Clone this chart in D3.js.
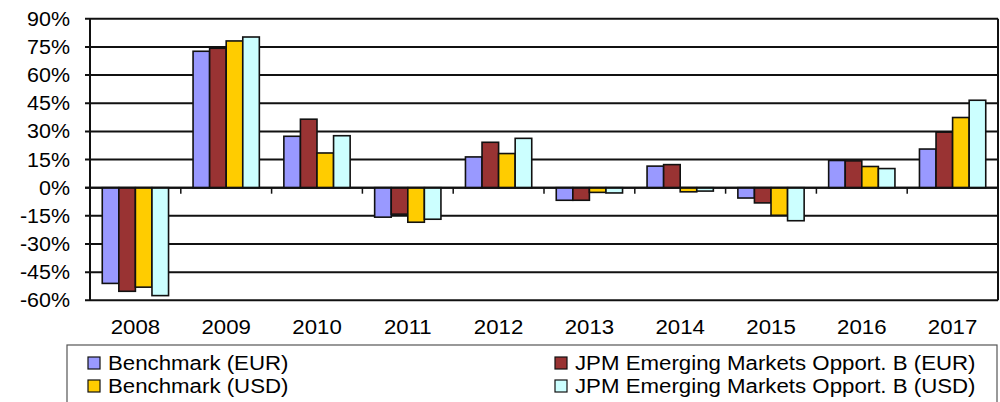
<!DOCTYPE html>
<html>
<head>
<meta charset="utf-8">
<script src="https://cdn.jsdelivr.net/npm/d3@7"></script>
<style>
  html, body { margin: 0; padding: 0; background: #fff; }
  svg { display: block; }
  text { font-family: "Liberation Sans", Arial, sans-serif; fill: #000; }
</style>
</head>
<body>
<svg id="chart" width="1000" height="402"></svg>
<script>
// ---- data ----
const years = ["2008","2009","2010","2011","2012","2013","2014","2015","2016","2017"];
const seriesNames = ["Benchmark (EUR)", "JPM Emerging Markets Opport. B (EUR)", "Benchmark (USD)", "JPM Emerging Markets Opport. B (USD)"];
const benchmarkEUR = [-51.0, 72.7, 27.4, -15.7, 16.4, -6.7, 11.5, -5.5, 14.5, 20.6];
const jpmEUR       = [-55.2, 74.3, 36.5, -14.1, 24.2, -6.7, 12.3, -8.1, 14.3, 29.6];
const benchmarkUSD = [-53.0, 78.2, 18.5, -18.4, 18.2, -2.5, -2.2, -14.7, 11.3, 37.4];
const jpmUSD       = [-57.5, 80.3, 27.7, -16.8, 26.3, -2.8, -1.8, -17.6, 10.2, 46.6];
const seriesColors = ["#9999FF", "#993333", "#FFCC00", "#CCFFFF"];
const yTicks = [-60, -45, -30, -15, 0, 15, 30, 45, 60, 75, 90];

const seriesValues = [benchmarkEUR, jpmEUR, benchmarkUSD, jpmUSD];

const svg = d3.select("#chart");
const plotLeft = 90, plotRight = 998;

const x = d3.scaleBand().domain(years).range([plotLeft, plotRight]).paddingInner(0).paddingOuter(0);
const groupW = x.bandwidth() * 0.73;
const xs = d3.scaleBand().domain(d3.range(4)).range([0, groupW]).padding(0);
const y = d3.scaleLinear().domain([-60, 90]).range([300.3, 18.8]);

// gridlines
svg.append("g").selectAll("line").data(yTicks).join("line")
  .attr("x1", plotLeft - 5).attr("x2", plotRight)
  .attr("y1", d => y(d)).attr("y2", d => y(d))
  .attr("stroke", "#111").attr("stroke-width", 2);

// right border
svg.append("line").attr("x1", plotRight).attr("x2", plotRight)
  .attr("y1", y(90)).attr("y2", y(-60)).attr("stroke", "#111").attr("stroke-width", 2);

// bars
years.forEach((yr, i) => {
  const g0 = x(yr) + (x.bandwidth() - groupW) / 2;
  seriesValues.forEach((vals, s) => {
    const v = vals[i];
    svg.append("rect")
      .attr("x", g0 + xs(s))
      .attr("width", xs.bandwidth())
      .attr("y", y(Math.max(0, v)))
      .attr("height", Math.abs(y(v) - y(0)))
      .attr("fill", seriesColors[s])
      .attr("stroke", "#111").attr("stroke-width", 1.6);
  });
});

// zero line on top
svg.append("line").attr("x1", plotLeft - 5).attr("x2", plotRight)
  .attr("y1", y(0)).attr("y2", y(0)).attr("stroke", "#111").attr("stroke-width", 2);

// x tick marks at category boundaries
const bounds = years.map(d => x(d)).concat([plotRight]);
svg.append("g").selectAll("line").data(bounds).join("line")
  .attr("x1", d => d).attr("x2", d => d)
  .attr("y1", y(0)).attr("y2", y(0) + 6)
  .attr("stroke", "#111").attr("stroke-width", 1.5);

// left axis
svg.append("line").attr("x1", plotLeft).attr("x2", plotLeft)
  .attr("y1", y(90)).attr("y2", y(-60)).attr("stroke", "#111").attr("stroke-width", 2);

// y labels
svg.append("g").selectAll("text").data(yTicks).join("text")
  .attr("transform", d => `translate(70,${y(d) + 7}) scale(1.1,1)`)
  .attr("text-anchor", "end")
  .style("font-size", "19.5px")
  .text(d => d + "%");

// x labels
svg.append("g").selectAll("text").data(years).join("text")
  .attr("transform", d => `translate(${x(d) + x.bandwidth() / 2},334) scale(1.06,1)`)
  .attr("text-anchor", "middle")
  .style("font-size", "21px")
  .text(d => d);

// legend
svg.append("rect").attr("x", 67).attr("y", 345).attr("width", 930).attr("height", 80)
  .attr("fill", "#fff").attr("stroke", "#555").attr("stroke-width", 1.2);
const legendPos = [[88, 370], [555, 370], [88, 393], [555, 393]];
seriesNames.forEach((name, s) => {
  const [lx, ly] = legendPos[s];
  svg.append("rect").attr("x", lx).attr("y", ly - 13).attr("width", 12).attr("height", 12)
    .attr("fill", seriesColors[s]).attr("stroke", "#111").attr("stroke-width", 1.2);
  svg.append("text")
    .attr("transform", `translate(${lx + 20},${ly}) scale(1.06,1)`)
    .style("font-size", "21px")
    .text(name);
});
</script>
</body>
</html>
